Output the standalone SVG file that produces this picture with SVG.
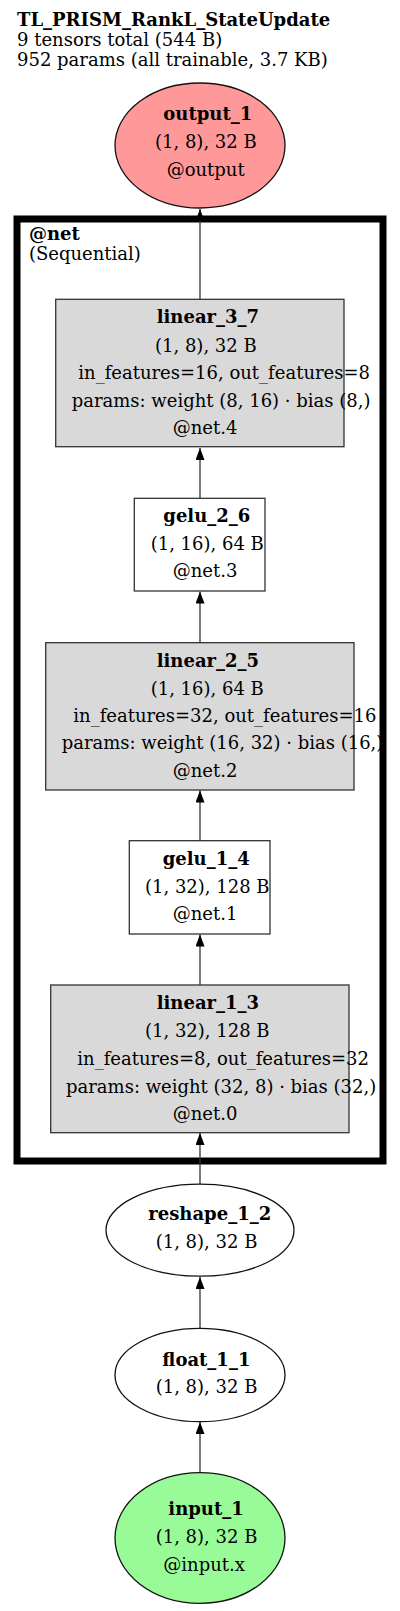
<svg xmlns="http://www.w3.org/2000/svg" width="400" height="1611" viewBox="0 0 400 1611">
<style>
text{font-family:"DejaVu Serif",serif;font-size:18px;fill:#000}
.b{font-weight:bold}
.edge{stroke:#333;stroke-width:1.3;fill:none}
.ell{stroke:#111;stroke-width:1.3}
.box{stroke:#333;stroke-width:1.3}
.gray{fill:#d9d9d9}
.white{fill:#fff}
</style>
<defs>
<marker id="arr" viewBox="0 0 12 9" refX="12" refY="4.5" markerWidth="12" markerHeight="9" markerUnits="userSpaceOnUse" orient="auto">
<path d="M0,0 L12,4.5 L0,9 Z" fill="#000"/>
</marker>
</defs>
<rect width="400" height="1611" fill="#fff"/>
<g id="title">
<text class="b" x="17" y="26">TL_PRISM_RankL_StateUpdate</text>
<text x="17" y="45.5">9 tensors total (544 B)</text>
<text x="17" y="65.5">952 params (all trainable, 3.7 KB)</text>
</g>
<g id="cluster_net">
<rect x="17" y="219" width="366" height="942" fill="none" stroke="#000" stroke-width="7"/>
<text class="b" x="29" y="240">@net</text>
<text x="29" y="260">(Sequential)</text>
</g>
<g id="edges">
<line class="edge" x1="200" y1="299" x2="200" y2="209" marker-end="url(#arr)"/>
<line class="edge" x1="200" y1="498" x2="200" y2="448" marker-end="url(#arr)"/>
<line class="edge" x1="200" y1="643" x2="200" y2="591.5" marker-end="url(#arr)"/>
<line class="edge" x1="200" y1="841" x2="200" y2="790.5" marker-end="url(#arr)"/>
<line class="edge" x1="200" y1="985" x2="200" y2="934.5" marker-end="url(#arr)"/>
<line class="edge" x1="200" y1="1184" x2="200" y2="1133" marker-end="url(#arr)"/>
<line class="edge" x1="200" y1="1328.5" x2="200" y2="1277" marker-end="url(#arr)"/>
<line class="edge" x1="200" y1="1473" x2="200" y2="1422" marker-end="url(#arr)"/>
</g>
<g id="output_1">
<ellipse class="ell" cx="200" cy="145.5" rx="85" ry="62.5" fill="#ff9999"/>
<text class="b" x="163.3" y="120">output_1</text>
<text x="155" y="148">(1, 8), 32 B</text>
<text x="166.7" y="176">@output</text>
</g>
<g id="linear_3_7">
<rect class="box gray" x="55.7" y="299.3" width="288.3" height="147.4"/>
<text class="b" x="156.7" y="323.3">linear_3_7</text>
<text x="155" y="351.7">(1, 8), 32 B</text>
<text x="78.3" y="379.3">in_features=16, out_features=8</text>
<text x="71.7" y="406.7">params: weight (8, 16) · bias (8,)</text>
<text x="172.7" y="434">@net.4</text>
</g>
<g id="gelu_2_6">
<rect class="box white" x="134.3" y="498.3" width="130.7" height="92.7"/>
<text class="b" x="163.3" y="521.7">gelu_2_6</text>
<text x="150.7" y="550">(1, 16), 64 B</text>
<text x="172.7" y="577.3">@net.3</text>
</g>
<g id="linear_2_5">
<rect class="box gray" x="45.7" y="642.7" width="308.3" height="147.3"/>
<text class="b" x="156.7" y="666.7">linear_2_5</text>
<text x="150.7" y="695">(1, 16), 64 B</text>
<text x="73.3" y="721.7">in_features=32, out_features=16</text>
<text x="61.7" y="749.3">params: weight (16, 32) · bias (16,)</text>
<text x="172.7" y="776.7">@net.2</text>
</g>
<g id="gelu_1_4">
<rect class="box white" x="129.3" y="840.7" width="140.7" height="93.3"/>
<text class="b" x="162.7" y="865">gelu_1_4</text>
<text x="145" y="893.3">(1, 32), 128 B</text>
<text x="172.7" y="920">@net.1</text>
</g>
<g id="linear_1_3">
<rect class="box gray" x="50.7" y="985" width="298.3" height="147.7"/>
<text class="b" x="156.7" y="1009.3">linear_1_3</text>
<text x="145" y="1037.3">(1, 32), 128 B</text>
<text x="77.3" y="1065">in_features=8, out_features=32</text>
<text x="66" y="1092.7">params: weight (32, 8) · bias (32,)</text>
<text x="172.7" y="1120">@net.0</text>
</g>
<g id="reshape_1_2">
<ellipse class="ell" cx="200" cy="1230.2" rx="94" ry="46" fill="#fff"/>
<text class="b" x="148.3" y="1220">reshape_1_2</text>
<text x="155.7" y="1248.3">(1, 8), 32 B</text>
</g>
<g id="float_1_1">
<ellipse class="ell" cx="200" cy="1375" rx="85" ry="46.7" fill="#fff"/>
<text class="b" x="162.3" y="1366">float_1_1</text>
<text x="155.7" y="1393.3">(1, 8), 32 B</text>
</g>
<g id="input_1">
<ellipse class="ell" cx="200" cy="1538" rx="85" ry="65.3" fill="#98fb98"/>
<text class="b" x="168.3" y="1515">input_1</text>
<text x="155.7" y="1543.3">(1, 8), 32 B</text>
<text x="163.3" y="1570.7">@input.x</text>
</g>
</svg>
